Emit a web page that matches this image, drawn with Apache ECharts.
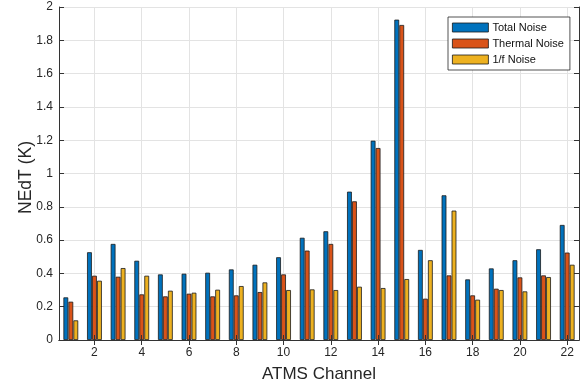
<!DOCTYPE html>
<html>
<head>
<meta charset="utf-8">
<script src="https://cdn.jsdelivr.net/npm/echarts@6/dist/echarts.min.js"></script>
<style>
  html, body { margin: 0; padding: 0; background: #fff; }
  #chart { width: 586px; height: 390px; }
</style>
</head>
<body>
<div id="chart"></div>
<script>
// ATMS per-channel noise-equivalent temperature (K)
const channels = ['1','2','3','4','5','6','7','8','9','10','11','12','13','14','15','16','17','18','19','20','21','22'];
const totalNoise   = [0.256, 0.527, 0.577, 0.476, 0.394, 0.398, 0.404, 0.424, 0.452, 0.497, 0.614, 0.653, 0.891, 1.197, 1.924, 0.541, 0.869, 0.364, 0.430, 0.479, 0.545, 0.691];
const thermalNoise = [0.230, 0.386, 0.380, 0.274, 0.262, 0.278, 0.262, 0.268, 0.288, 0.394, 0.537, 0.577, 0.833, 1.153, 1.892, 0.248, 0.388, 0.268, 0.308, 0.376, 0.388, 0.525];
const flickerNoise = [0.118, 0.356, 0.432, 0.386, 0.296, 0.284, 0.302, 0.324, 0.346, 0.300, 0.304, 0.300, 0.320, 0.312, 0.366, 0.479, 0.777, 0.242, 0.300, 0.292, 0.378, 0.452];
const seriesNames = ['Total Noise', 'Thermal Noise', '1/f Noise'];
const seriesColors = ['#0072BD', '#D95319', '#EDB120'];

const FONT = 'Liberation Sans, Arial, Helvetica, sans-serif';
const TEXT = '#262626';
const AXIS = '#333333';
const GRID = '#e3e3e3';
const evenOnly = (i) => i % 2 === 1;

const chart = echarts.init(document.getElementById('chart'), null, { renderer: 'canvas' });

const barSeries = [totalNoise, thermalNoise, flickerNoise].map((vals, k) => ({
  name: seriesNames[k],
  type: 'bar',
  data: vals,
  barWidth: 4.8,
  barGap: '4%',
  itemStyle: { color: seriesColors[k], borderColor: '#1a1a1a', borderWidth: 0.8 },
  emphasis: { disabled: true }
}));

chart.setOption({
  animation: false,
  backgroundColor: '#ffffff',
  textStyle: { fontFamily: FONT, color: TEXT },
  grid: { left: 59, right: 7, top: 7, bottom: 50, containLabel: false },
  legend: {
    data: seriesNames,
    orient: 'vertical',
    left: 448,
    top: 17,
    width: 121,
    icon: 'rect',
    itemWidth: 36,
    itemHeight: 9,
    itemGap: 5,
    padding: [5, 6, 5, 4],
    backgroundColor: '#ffffff',
    borderColor: '#262626',
    borderWidth: 0.8,
    borderRadius: 0,
    itemStyle: { borderColor: '#1a1a1a', borderWidth: 0.8 },
    textStyle: { fontFamily: FONT, fontSize: 11, color: '#111', padding: [0, 0, 0, -1] },
    selectedMode: false
  },
  xAxis: [
    {
      type: 'category',
      data: channels,
      position: 'bottom',
      z: 10,
      name: 'ATMS Channel',
      nameLocation: 'middle',
      nameGap: 26,
      nameMoveOverlap: false,
      nameTextStyle: { fontFamily: FONT, fontSize: 17, color: TEXT },
      axisLine: { show: true, lineStyle: { color: AXIS, width: 1 } },
      axisTick: { show: true, inside: true, length: 5, alignWithLabel: true, interval: evenOnly, lineStyle: { color: AXIS } },
      axisLabel: { show: true, interval: evenOnly, margin: 7, fontFamily: FONT, fontSize: 12, color: TEXT },
      splitLine: { show: false }
    },
    {
      type: 'category',
      data: channels,
      position: 'top',
      axisLine: { show: true, lineStyle: { color: AXIS, width: 1 } },
      axisTick: { show: true, inside: true, length: 5, alignWithLabel: true, interval: evenOnly, lineStyle: { color: AXIS } },
      axisLabel: { show: false },
      splitLine: { show: true, interval: evenOnly, alignWithLabel: true, lineStyle: { color: GRID, width: 1 } }
    }
  ],
  yAxis: [
    {
      type: 'value',
      min: 0,
      max: 2,
      interval: 0.2,
      position: 'left',
      name: 'NEdT (K)',
      nameLocation: 'middle',
      nameGap: 24,
      nameMoveOverlap: false,
      nameTextStyle: { fontFamily: FONT, fontSize: 17.5, color: TEXT, padding: [0, 8, 0, 0] },
      axisLine: { show: true, lineStyle: { color: AXIS, width: 1 } },
      axisTick: { show: true, inside: true, length: 5, lineStyle: { color: AXIS } },
      axisLabel: { margin: 6, fontFamily: FONT, fontSize: 12, color: TEXT },
      splitLine: { show: true, lineStyle: { color: GRID, width: 1 } }
    },
    {
      type: 'value',
      min: 0,
      max: 2,
      interval: 0.2,
      position: 'right',
      axisLine: { show: true, lineStyle: { color: AXIS, width: 1 } },
      axisTick: { show: true, inside: true, length: 5, lineStyle: { color: AXIS } },
      axisLabel: { show: false },
      splitLine: { show: false }
    }
  ],
  series: barSeries
});
</script>
</body>
</html>
